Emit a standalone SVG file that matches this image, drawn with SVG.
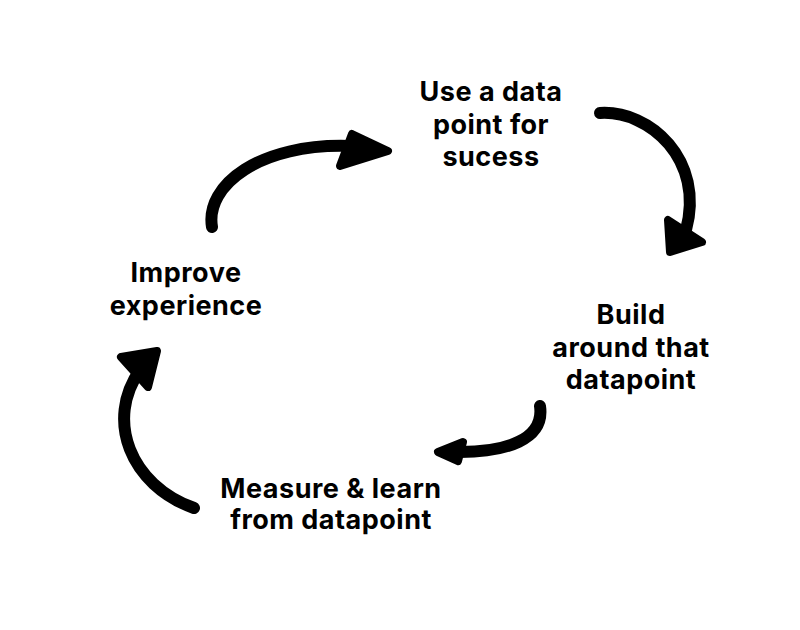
<svg xmlns="http://www.w3.org/2000/svg" width="800" height="630" viewBox="0 0 800 630">
<style>
.t{font-family:Inter,"Liberation Sans",sans-serif;font-weight:700;font-size:27px;letter-spacing:0.5px;fill:#000;text-anchor:middle}
.s{fill:none;stroke:#000;stroke-width:12;stroke-linecap:round;stroke-linejoin:round}
.h{fill:#000;stroke:#000;stroke-width:8;stroke-linejoin:round}
</style>
<rect width="800" height="630" fill="#fff"/>
<g id="n1"><text class="t" x="491" y="101">Use a data</text><text class="t" x="491" y="134">point for</text><text class="t" x="491" y="166">sucess</text></g>
<g id="n2"><text class="t" x="631" y="324">Build</text><text class="t" x="631" y="357">around that</text><text class="t" x="631" y="389">datapoint</text></g>
<g id="n3"><text class="t" x="331" y="498">Measure &amp; learn</text><text class="t" x="331" y="529">from datapoint</text></g>
<g id="n4"><text class="t" x="186" y="282">Improve</text><text class="t" x="186" y="315">experience</text></g>
<g id="connectors">
<path class="s" d="M212,227 C205,185 260,143 350,146"/>
<path class="h" d="M352,134 L388,151 L340,166 Z"/>
<path class="s" d="M600,113 C650,110 705,160 686,230"/>
<path class="h" d="M668,220 L670,252 L702,242 Z"/>
<path class="s" d="M540,406 C545,440 505,452 460,452"/>
<path class="h" d="M463,442 L438,452 L458,461 Z"/>
<path class="s" d="M194,508 C130,485 105,420 140,370"/>
<path class="h" d="M121,357 L157,351 L148,387 Z"/>
</g>
</svg>
